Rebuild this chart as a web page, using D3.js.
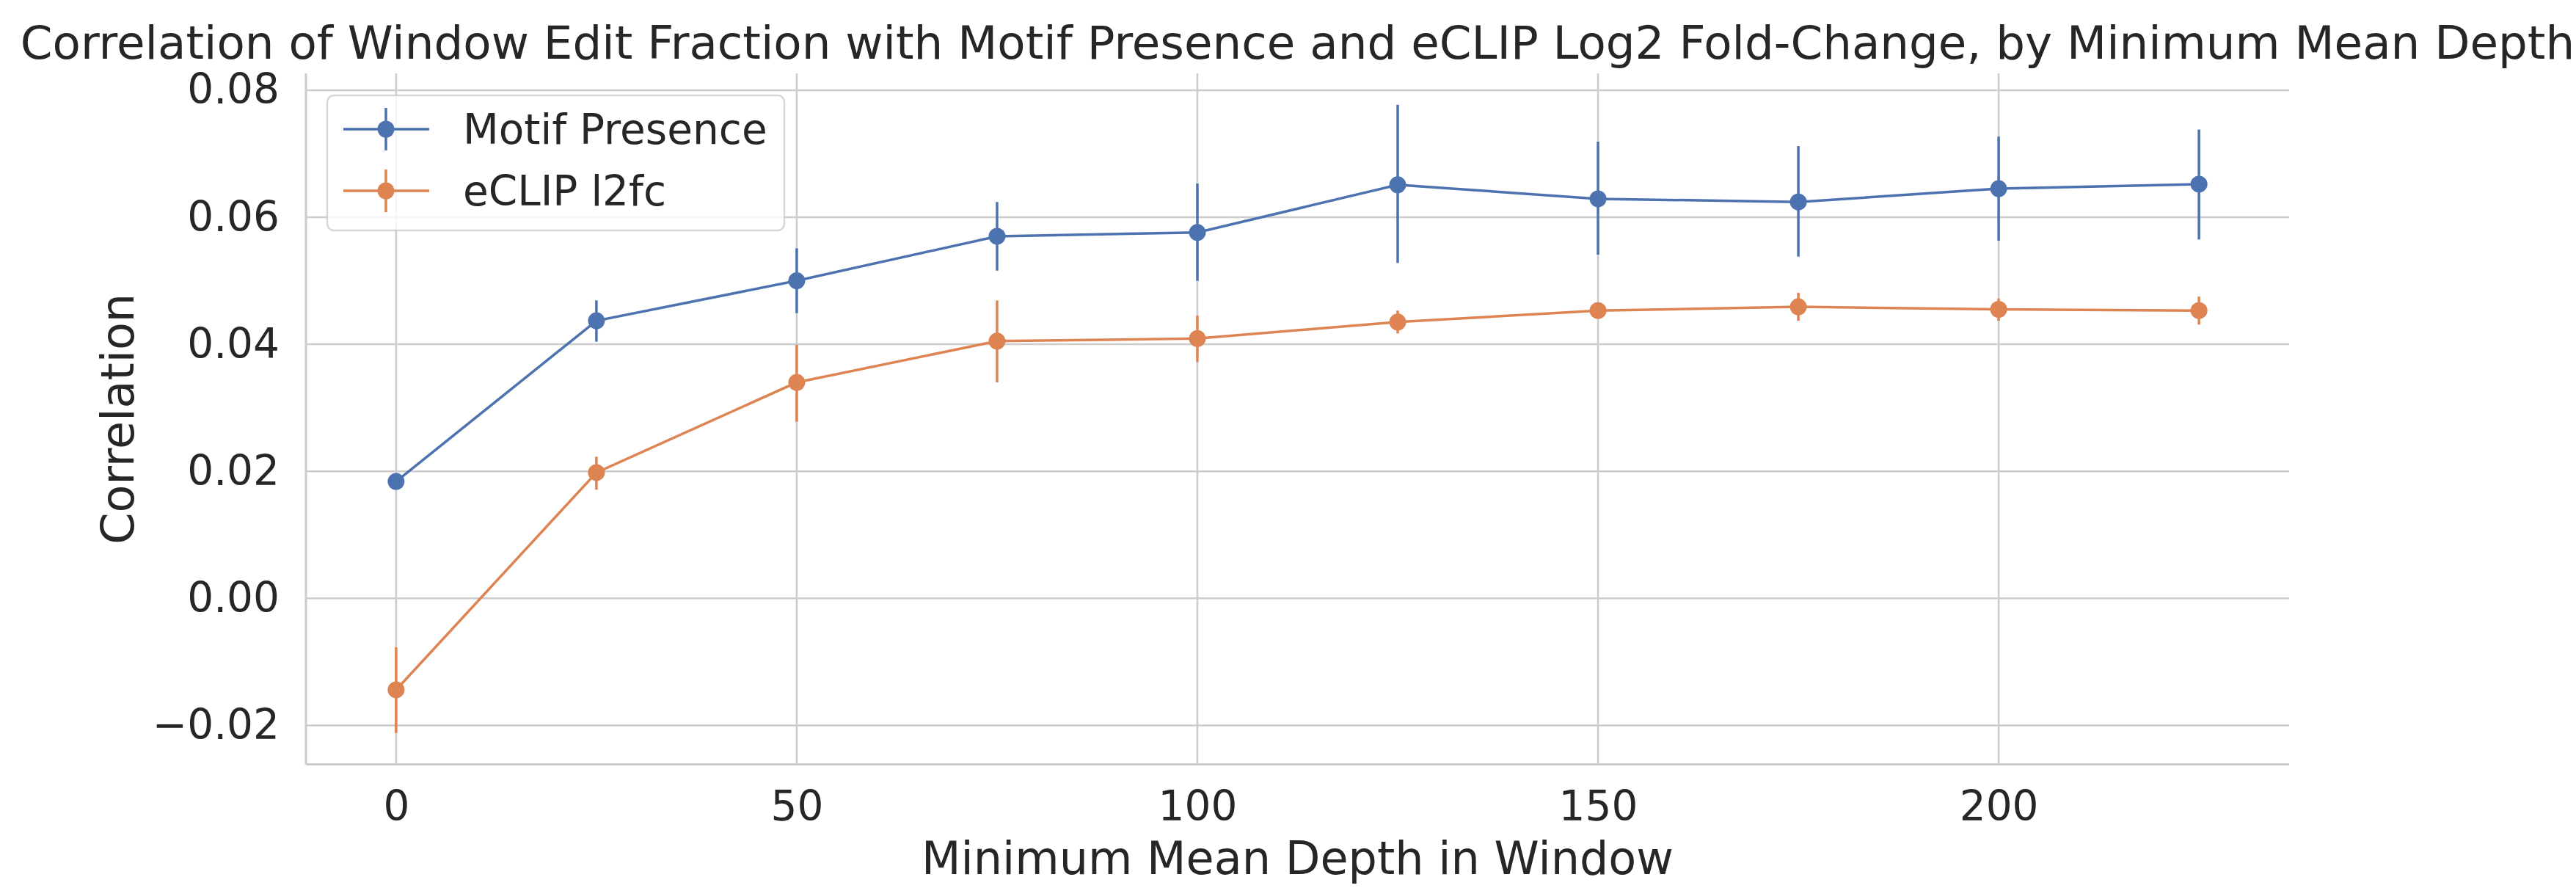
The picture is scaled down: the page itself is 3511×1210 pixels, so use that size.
<!DOCTYPE html>
<html>
<head>
<meta charset="utf-8">
<script src="https://cdn.jsdelivr.net/npm/d3@7"></script>
<style>
  body { margin: 0; background: #fff; }
  text { font-family: "DejaVu Sans", sans-serif; fill: #262626; }
</style>
</head>
<body>
<svg id="chart"></svg>
<script>
// depth thresholds on the x axis
var depths = [0, 25, 50, 75, 100, 125, 150, 175, 200, 225];

// Motif Presence: correlation and error bar ends
var motif   = [0.0184, 0.0437, 0.0500, 0.0570, 0.0576, 0.0651, 0.0629, 0.0624, 0.0645, 0.0652];
var motifLo = [0.0180, 0.0404, 0.0449, 0.0516, 0.0500, 0.0528, 0.0541, 0.0538, 0.0563, 0.0565];
var motifHi = [0.0188, 0.0469, 0.0551, 0.0624, 0.0653, 0.0777, 0.0719, 0.0712, 0.0727, 0.0738];

// eCLIP l2fc: correlation and error bar ends
var eclip   = [-0.0144, 0.0198, 0.0340, 0.0405, 0.0409, 0.0435, 0.0453, 0.0459, 0.0455, 0.0453];
var eclipLo = [-0.0212, 0.0171, 0.0278, 0.0340, 0.0372, 0.0417, 0.0445, 0.0437, 0.0437, 0.0431];
var eclipHi = [-0.0077, 0.0223, 0.0399, 0.0469, 0.0445, 0.0453, 0.0461, 0.0481, 0.0472, 0.0475];

var xTicks = [0, 50, 100, 150, 200];
var yTicks = [-0.02, 0.00, 0.02, 0.04, 0.06, 0.08];

var seriesNames = ["Motif Presence", "eCLIP l2fc"];
var colors = ["#4c72b0", "#dd8452"];

var width = 3511,
    height = 1210;

// plot area (named so they don't clash with window.top)
var plotL = 417, plotR = 3120, plotT = 100, plotB = 1041.6;
var tickSize = 56.5, labelSize = 62, titleSize = 62.7;

var svg = d3.select("#chart")
    .attr("width", width)
    .attr("height", height);

// matplotlib-like 5% margins
var xPad = (d3.max(depths) - d3.min(depths)) * 0.05;
var x = d3.scaleLinear()
    .domain([d3.min(depths) - xPad, d3.max(depths) + xPad])
    .range([plotL, plotR]);

var yMin = Math.min(d3.min(motifLo), d3.min(eclipLo)),
    yMax = Math.max(d3.max(motifHi), d3.max(eclipHi));
var yPad = (yMax - yMin) * 0.05;
var y = d3.scaleLinear()
    .domain([yMin - yPad, yMax + yPad])
    .range([plotB, plotT]);

// grid
var grid = svg.append("g");
grid.selectAll(".hgrid")
    .data(yTicks)
    .enter().append("line")
    .attr("x1", plotL).attr("x2", plotR)
    .attr("y1", d => y(d)).attr("y2", d => y(d))
    .attr("stroke", "#cccccc")
    .attr("stroke-width", 2.5);
grid.selectAll(".vgrid")
    .data(xTicks)
    .enter().append("line")
    .attr("x1", d => x(d)).attr("x2", d => x(d))
    .attr("y1", plotT).attr("y2", plotB)
    .attr("stroke", "#cccccc")
    .attr("stroke-width", 2.5);

// spines (left and bottom only)
svg.append("line")
    .attr("x1", plotL).attr("x2", plotL).attr("y1", plotT).attr("y2", plotB)
    .attr("stroke", "#cccccc").attr("stroke-width", 3);
svg.append("line")
    .attr("x1", plotL).attr("x2", plotR).attr("y1", plotB).attr("y2", plotB)
    .attr("stroke", "#cccccc").attr("stroke-width", 3);

// axes (labels only, no tick marks)
var yAxis = svg.append("g")
    .attr("transform", "translate(" + plotL + ",0)")
    .call(d3.axisLeft(y).tickValues(yTicks).tickFormat(d3.format(".2f")).tickSize(0).tickPadding(36));
var xAxis = svg.append("g")
    .attr("transform", "translate(0," + plotB + ")")
    .call(d3.axisBottom(x).tickValues(xTicks).tickFormat(d3.format("d")).tickSize(0).tickPadding(36));
[yAxis, xAxis].forEach(function(a) {
  a.select(".domain").remove();
  a.selectAll("text")
    .attr("font-family", "DejaVu Sans")
    .attr("font-size", tickSize)
    .attr("fill", "#262626");
});

// series
var series = [
  { name: seriesNames[0], color: colors[0], v: motif, lo: motifLo, hi: motifHi },
  { name: seriesNames[1], color: colors[1], v: eclip, lo: eclipLo, hi: eclipHi }
];

var line = d3.line()
    .x(d => x(d.depth))
    .y(d => y(d.value));

series.forEach(function(s) {
  var pts = depths.map((dp, i) => ({ depth: dp, value: s.v[i], lo: s.lo[i], hi: s.hi[i] }));
  var g = svg.append("g");
  g.append("path")
    .datum(pts)
    .attr("d", line)
    .attr("fill", "none")
    .attr("stroke", s.color)
    .attr("stroke-width", 3.5);
  g.selectAll(".err")
    .data(pts)
    .enter().append("line")
    .attr("x1", d => x(d.depth)).attr("x2", d => x(d.depth))
    .attr("y1", d => y(d.lo)).attr("y2", d => y(d.hi))
    .attr("stroke", s.color)
    .attr("stroke-width", 3.5);
  g.selectAll(".dot")
    .data(pts)
    .enter().append("circle")
    .attr("cx", d => x(d.depth))
    .attr("cy", d => y(d.value))
    .attr("r", 11.5)
    .attr("fill", s.color);
});

// legend
var legend = svg.append("g");
legend.append("rect")
    .attr("x", 446).attr("y", 130)
    .attr("width", 623).attr("height", 184)
    .attr("rx", 9)
    .attr("fill", "#ffffff").attr("fill-opacity", 0.8)
    .attr("stroke", "#cccccc").attr("stroke-opacity", 0.8)
    .attr("stroke-width", 2.5);
series.forEach(function(s, i) {
  var ly = 176 + i * 84;
  legend.append("line")
    .attr("x1", 468).attr("x2", 585).attr("y1", ly).attr("y2", ly)
    .attr("stroke", s.color).attr("stroke-width", 3.5);
  legend.append("line")
    .attr("x1", 526).attr("x2", 526).attr("y1", ly - 29).attr("y2", ly + 29)
    .attr("stroke", s.color).attr("stroke-width", 3.5);
  legend.append("circle")
    .attr("cx", 526).attr("cy", ly).attr("r", 11.5)
    .attr("fill", s.color);
  legend.append("text")
    .attr("x", 631).attr("y", ly + 20)
    .attr("font-size", tickSize)
    .text(s.name);
});

// titles
svg.append("text")
    .attr("x", (plotL + plotR) / 2).attr("y", 80)
    .attr("text-anchor", "middle")
    .attr("font-size", titleSize)
    .text("Correlation of Window Edit Fraction with Motif Presence and eCLIP Log2 Fold-Change, by Minimum Mean Depth");

svg.append("text")
    .attr("x", (plotL + plotR) / 2).attr("y", 1191)
    .attr("text-anchor", "middle")
    .attr("font-size", labelSize)
    .text("Minimum Mean Depth in Window");

svg.append("text")
    .attr("transform", "translate(182," + (plotT + plotB) / 2 + ") rotate(-90)")
    .attr("text-anchor", "middle")
    .attr("font-size", labelSize)
    .text("Correlation");
</script>
</body>
</html>
